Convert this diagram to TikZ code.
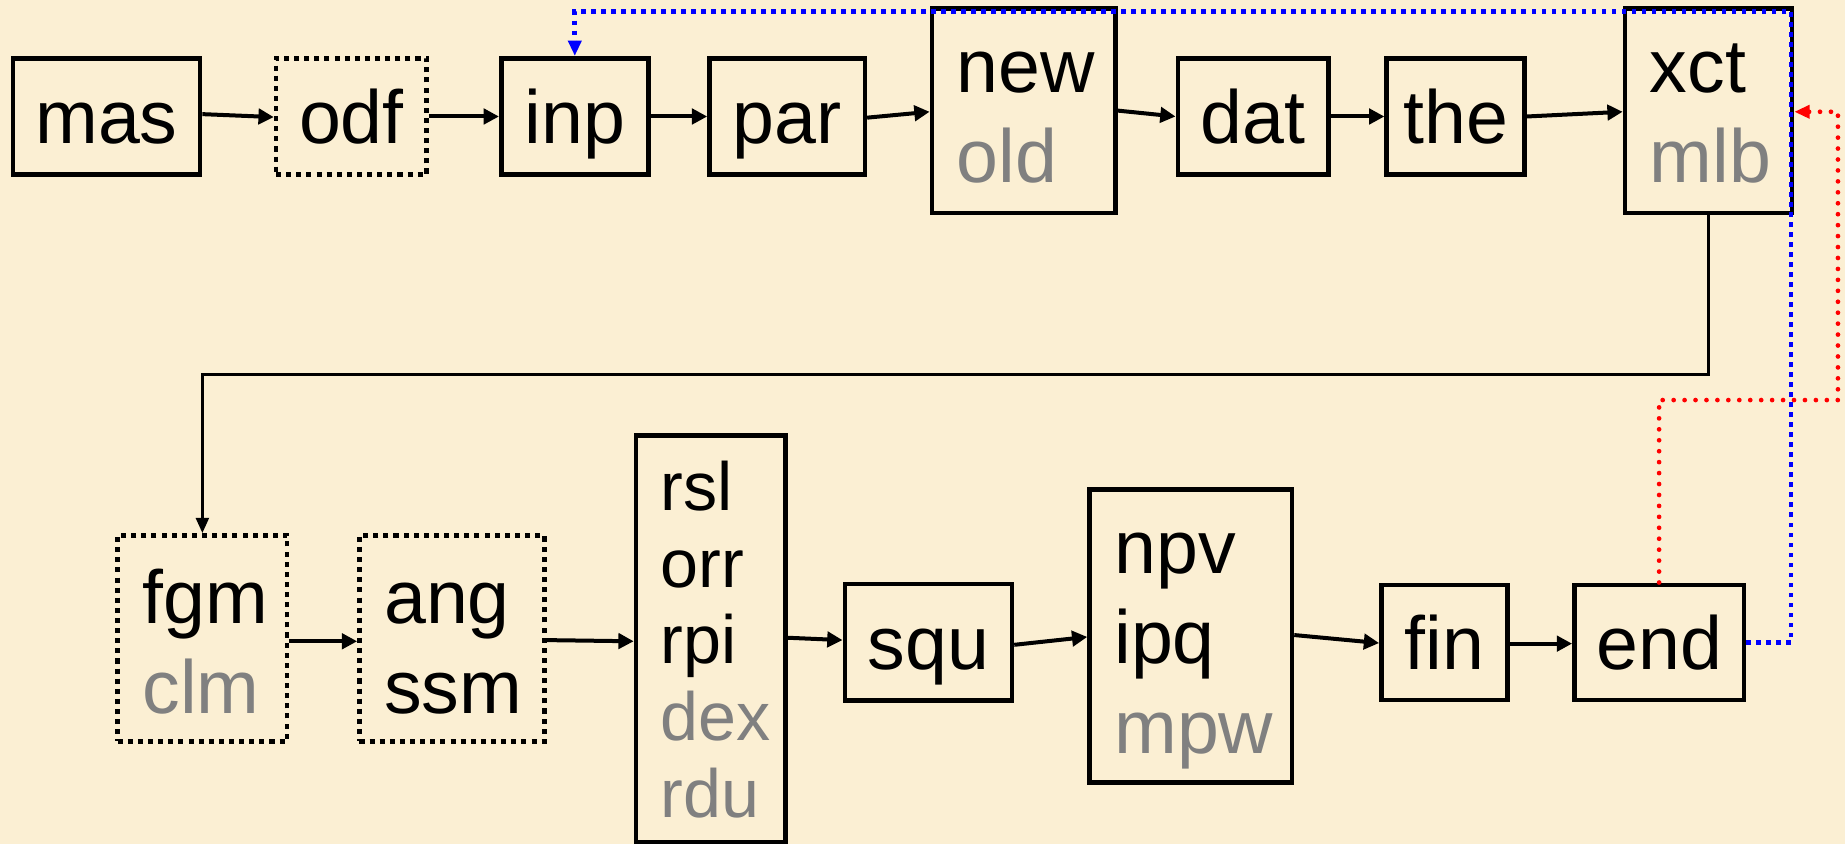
\documentclass[tikz,border=0pt]{standalone}
\usepackage{fontspec}
\setmainfont{Liberation Sans}
\usetikzlibrary{arrows.meta}
\definecolor{bg}{RGB}{251,239,211}
\definecolor{txtgray}{RGB}{128,128,128}
\tikzset{
  box/.style={draw, line width=3.9pt, inner sep=0pt, align=center, text height=46pt, text depth=0pt, font=\fontsize{64}{76.5}\selectfont},
  dotbox/.style={dash pattern=on 4.3pt off 4.3pt},
  multi/.style={draw, line width=3.9pt, inner xsep=21pt, inner ysep=0pt, align=left, text height=0pt, font=\fontsize{64}{76.5}\selectfont},
  arr/.style={line width=3.4pt, -{Triangle[length=13pt,width=13pt]}},
  thinarr/.style={line width=2.3pt, -{Triangle[length=13pt,width=11pt]}},
  bluedot/.style={blue, line width=4pt, dash pattern=on 4pt off 4.5pt, -{Triangle[length=13pt,width=11pt]}},
  reddot/.style={red, line width=4pt, line cap=round, dash pattern=on 0pt off 9.3pt, -{Triangle[length=13pt,width=11pt]}},
}
\begin{document}
\begin{tikzpicture}[x=1pt,y=-1pt]
\fill[bg] (0,0) rectangle (1568,717);
\useasboundingbox (0,0) rectangle (1568,717);
% top row
\node[box, minimum width=159pt, minimum height=99pt] (mas) at (90.5,99) {mas};
\node[box, dotbox, minimum width=128pt, minimum height=99pt] (odf) at (298.6,99) {odf};
\node[box, minimum width=125pt, minimum height=99pt] (inp) at (488.5,99) {inp};
\node[box, minimum width=132pt, minimum height=99pt] (par) at (669,99) {par};
\node[multi, text width=114pt, text depth=30pt, minimum height=174pt] (new) at (870,94) {new\\{\color{txtgray}old}};
\node[box, minimum width=128pt, minimum height=99pt] (dat) at (1065,99) {dat};
\node[box, minimum width=117pt, minimum height=99pt] (the) at (1237,99) {the};
\node[multi, text width=100pt, text depth=30pt, minimum height=174pt] (xct) at (1452,94) {xct\\{\color{txtgray}mlb}};
% bottom row
\node[multi, dotbox, text width=102pt, text depth=26pt, minimum height=175pt] (fgm) at (172,542.5) {fgm\\{\color{txtgray}clm}};
\node[multi, dotbox, text width=115pt, text depth=26pt, minimum height=175pt] (ang) at (384,542.5) {ang\\ssm};
\node[multi, text width=85pt, text depth=219pt, minimum height=346pt, font=\fontsize{58}{65.4}\selectfont] (rsl) at (604,543) {rsl\\orr\\rpi\\{\color{txtgray}dex}\\{\color{txtgray}rdu}};
\node[box, minimum width=142pt, minimum height=99pt] (squ) at (789,545.7) {squ};
\node[multi, text width=130pt, text depth=107pt, minimum height=249pt] (npv) at (1012,540.5) {npv\\ipq\\{\color{txtgray}mpw}};
\node[box, minimum width=107pt, minimum height=98pt] (fin) at (1227.5,546) {fin};
\node[box, minimum width=144pt, minimum height=98pt] (end) at (1410,546) {end};
% turning points
\coordinate (turn) at (0,318);
\coordinate (btop) at (1522,10);
\coordinate (rturn) at (1562,340);
% connectors
\draw[arr] ([yshift=2pt]mas.east) -- ([yshift=-0.5pt]odf.west);
\draw[arr] (odf.east) -- (inp.west);
\draw[arr] (inp.east) -- (par.west);
\draw[arr] ([yshift=-1pt]par.east) -- ([yshift=-1pt]new.west);
\draw[arr] (new.east) -- (dat.west);
\draw[arr] (dat.east) -- (the.west);
\draw[arr] (the.east) -- ([yshift=-1pt]xct.west);
\draw[thinarr] (xct.south) -- (xct.south |- turn) -- (fgm.north |- turn) -- (fgm.north);
\draw[arr] ([yshift=-2.5pt]fgm.east) -- ([yshift=-2.5pt]ang.west);
\draw[arr] ([yshift=-1.5pt]ang.east) -- ([yshift=-2pt]rsl.west);
\draw[arr] ([yshift=1pt]rsl.east) -- ([yshift=1.7pt]squ.west);
\draw[arr] ([yshift=-2.3pt]squ.east) -- ([yshift=-0.8pt]npv.west);
\draw[arr] ([yshift=0.8pt]npv.east) -- ([yshift=-0.5pt]fin.west);
\draw[arr] ([yshift=-1pt]fin.east) -- ([yshift=-1pt]end.west);
\draw[bluedot] (end.east) -| (btop) -| (inp.north);
\draw[reddot] (end.north) |- (rturn) |- ([yshift=-1pt]xct.east);
\end{tikzpicture}
\end{document}
